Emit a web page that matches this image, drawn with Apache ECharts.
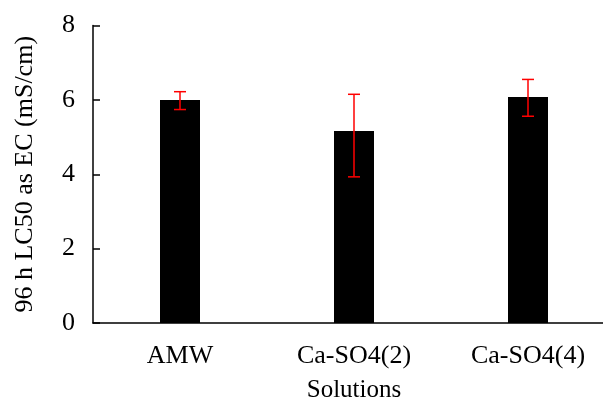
<!DOCTYPE html>
<html>
<head>
<meta charset="utf-8">
<script src="https://cdn.jsdelivr.net/npm/echarts@6/dist/echarts.min.js"></script>
<style>
  html, body { margin: 0; padding: 0; background: #fff; overflow: hidden; }
  #chart { width: 603px; height: 403px; }
</style>
</head>
<body>
<div id="chart"></div>
<script>
// 96 h LC50 expressed as electrical conductivity, per test solution
const categories = ['AMW', 'Ca-SO4(2)', 'Ca-SO4(4)'];
const lc50 = [6.0, 5.16, 6.08];
const upper = [6.22, 6.15, 6.55];
const lower = [5.74, 3.93, 5.56];
const yTicks = [0, 2, 4, 6, 8];

const FONT = '"Liberation Serif", "Times New Roman", serif';

const chart = echarts.init(document.getElementById('chart'), null, { renderer: 'canvas' });

const errData = categories.map((c, i) => [i, lower[i], upper[i]]);

chart.setOption({
  animation: false,
  backgroundColor: '#fff',
  grid: {
    left: 93, top: 25.5, width: 522, height: 297.5,
    containLabel: false,
    outerBoundsMode: 'none'
  },
  xAxis: {
    type: 'category',
    data: categories,
    name: 'Solutions',
    nameLocation: 'middle',
    nameGap: 55,
    nameTextStyle: { fontFamily: FONT, fontSize: 25, color: '#000' },
    axisLine: { lineStyle: { color: '#000', width: 1.5 } },
    axisTick: { show: false },
    axisLabel: { fontFamily: FONT, fontSize: 26, color: '#000', margin: 20 }
  },
  yAxis: {
    type: 'value',
    min: 0, max: 8, interval: 2,
    name: '96 h LC50 as EC (mS/cm)',
    nameLocation: 'middle',
    nameGap: 55,
    nameTextStyle: { fontFamily: FONT, fontSize: 26, color: '#000' },
    axisLine: { show: true, lineStyle: { color: '#000', width: 1.5 } },
    axisTick: { show: true, inside: true, length: 7, lineStyle: { color: '#000', width: 1.5 } },
    splitLine: { show: false },
    axisLabel: {
      fontFamily: FONT, fontSize: 26, color: '#000', margin: 18,
      formatter: v => (yTicks.includes(v) ? String(v) : '')
    }
  },
  series: [
    {
      type: 'bar',
      data: lc50,
      barWidth: 40,
      itemStyle: { color: '#000' }
    },
    {
      type: 'custom',
      data: errData,
      z: 10,
      renderItem: (params, api) => {
        const x = api.value(0);
        const lo = api.coord([x, api.value(1)]);
        const hi = api.coord([x, api.value(2)]);
        const half = 6;
        const style = { stroke: '#ff0000', lineWidth: 1.5 };
        return {
          type: 'group',
          children: [
            { type: 'line', shape: { x1: hi[0], y1: hi[1], x2: lo[0], y2: lo[1] }, style },
            { type: 'line', shape: { x1: hi[0] - half, y1: hi[1], x2: hi[0] + half, y2: hi[1] }, style },
            { type: 'line', shape: { x1: lo[0] - half, y1: lo[1], x2: lo[0] + half, y2: lo[1] }, style }
          ]
        };
      }
    }
  ]
});
</script>
</body>
</html>
